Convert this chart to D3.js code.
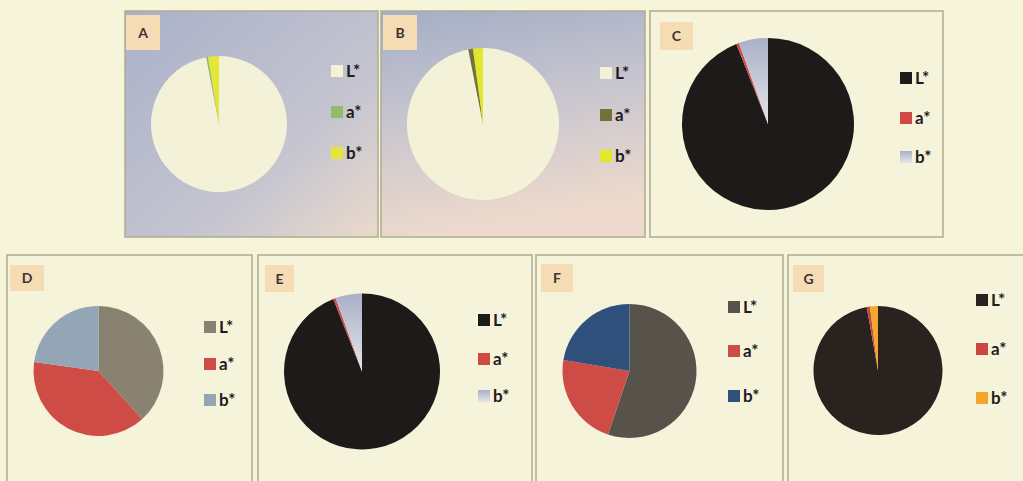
<!DOCTYPE html>
<html>
<head>
<meta charset="utf-8">
<script src="https://cdn.jsdelivr.net/npm/d3@7"></script>
<style>
  body { margin: 0; background: #f6f4d9; }
  svg { display: block; }
  text { font-family: Lato, "Open Sans", sans-serif; }
</style>
</head>
<body>
<svg id="canvas" width="1023" height="481"></svg>
<script>
// panel labels and the three colour components
const panelNames = ["A", "B", "C", "D", "E", "F", "G"];
const seriesNames = ["L*", "a*", "b*"];

// share of each component per panel (percent)
const lValues = [97.0, 96.9, 94.0, 38.3, 94.0, 55.2, 97.2];
const aValues = [0.4, 1.0, 0.5, 38.9, 0.5, 22.4, 0.8];
const bValues = [2.6, 2.1, 5.5, 22.8, 5.5, 22.4, 2.0];

// slice colours per panel (L*, a*, b*)
const sliceColors = [
  ["#f3f2d9", "#8fbd6c", "#e4e63a"],
  ["#f3f2d9", "#717339", "#e3e72c"],
  ["#1d1a1a", "#d04a44", "url(#grayGrad)"],
  ["#8a8271", "#cf4c46", "#94a6b5"],
  ["#1d1a1a", "#d04a44", "url(#grayGrad)"],
  ["#58534a", "#cd4c46", "#2f507b"],
  ["#29231f", "#cc4540", "#f3a62a"]
];

let svg = d3.select("#canvas");

// layout of each panel box, pie and legend
const layout = [
  {x: 125, y: 11, w: 253, h: 226, bg: "url(#bgA)", cx: 219, cy: 124, r: 68, lab: [126, 15, 34, 35], legX: 331, legY: [71, 112, 153]},
  {x: 381, y: 11, w: 264, h: 226, bg: "url(#bgB)", cx: 483, cy: 124, r: 76, lab: [383, 15, 34, 35], legX: 600, legY: [73, 115, 156]},
  {x: 650, y: 11, w: 293, h: 226, bg: "#f5f3da", cx: 768, cy: 124, r: 86, lab: [660, 22, 33, 28], legX: 900, legY: [78, 118, 157]},
  {x: 7, y: 255, w: 245, h: 240, bg: "#f5f3da", cx: 98.5, cy: 371, r: 65, lab: [10, 265, 34, 26], legX: 204, legY: [327, 364, 400]},
  {x: 258, y: 255, w: 274, h: 240, bg: "#f5f3da", cx: 362, cy: 371.5, r: 78, lab: [265, 265, 29, 27], legX: 478, legY: [320, 359, 396]},
  {x: 536, y: 255, w: 247, h: 240, bg: "#f5f3da", cx: 629.5, cy: 371, r: 67, lab: [541, 264, 32, 28], legX: 728, legY: [307, 351, 396]},
  {x: 788, y: 255, w: 240, h: 240, bg: "#f5f3da", cx: 878, cy: 370.5, r: 64.5, lab: [793, 265, 31, 27], legX: 976, legY: [300, 349, 398]}
];

// gradients
let defs = svg.append("defs");
let gA = defs.append("linearGradient").attr("id", "bgA")
  .attr("x1", "0").attr("y1", "0").attr("x2", "1").attr("y2", "1");
gA.append("stop").attr("offset", "0").attr("stop-color", "#a9b1c9");
gA.append("stop").attr("offset", "0.65").attr("stop-color", "#c6c5d0");
gA.append("stop").attr("offset", "1").attr("stop-color", "#ebdacb");
let gB = defs.append("linearGradient").attr("id", "bgB")
  .attr("x1", "0").attr("y1", "0").attr("x2", "0.2").attr("y2", "1");
gB.append("stop").attr("offset", "0").attr("stop-color", "#a4aec6");
gB.append("stop").attr("offset", "0.5").attr("stop-color", "#c9c6cf");
gB.append("stop").attr("offset", "1").attr("stop-color", "#eedacc");
let gG = defs.append("linearGradient").attr("id", "grayGrad")
  .attr("x1", "0").attr("y1", "0").attr("x2", "0").attr("y2", "1");
gG.append("stop").attr("offset", "0").attr("stop-color", "#a9b0c8");
gG.append("stop").attr("offset", "1").attr("stop-color", "#e6e4e8");

let pie = d3.pie().sort(null).value(d => d.value);

panelNames.forEach((name, i) => {
  let L = layout[i];
  let g = svg.append("g");

  g.append("rect")
    .attr("x", L.x).attr("y", L.y)
    .attr("width", L.w).attr("height", L.h)
    .attr("fill", L.bg)
    .attr("stroke", "#aeab92")
    .attr("stroke-width", 1.5);

  // label box
  g.append("rect")
    .attr("x", L.lab[0]).attr("y", L.lab[1])
    .attr("width", L.lab[2]).attr("height", L.lab[3])
    .attr("fill", "#f5dcb5");
  g.append("text")
    .attr("x", L.lab[0] + L.lab[2] / 2)
    .attr("y", L.lab[1] + L.lab[3] / 2 + 5)
    .attr("text-anchor", "middle")
    .attr("font-size", 14).attr("font-weight", "bold")
    .attr("fill", "#3a3530")
    .text(name);

  let data = seriesNames.map((s, k) => ({
    name: s,
    value: [lValues, aValues, bValues][k][i]
  }));

  let arc = d3.arc().innerRadius(0).outerRadius(L.r);
  g.append("g")
    .attr("transform", `translate(${L.cx},${L.cy})`)
    .selectAll("path")
    .data(pie(data))
    .join("path")
    .attr("d", arc)
    .attr("fill", (d, k) => sliceColors[i][k]);

  // legend
  let leg = g.append("g")
    .selectAll("g")
    .data(data)
    .join("g")
    .attr("transform", (d, k) => `translate(${L.legX},${L.legY[k]})`);
  leg.append("rect")
    .attr("x", 0).attr("y", -6)
    .attr("width", 12).attr("height", 12)
    .attr("fill", (d, k) => sliceColors[i][k]);
  leg.append("text")
    .attr("x", 15).attr("y", 6)
    .attr("font-size", 17).attr("font-weight", "bold")
    .attr("fill", "#1e1c1c")
    .text(d => d.name);
});
</script>
</body>
</html>
